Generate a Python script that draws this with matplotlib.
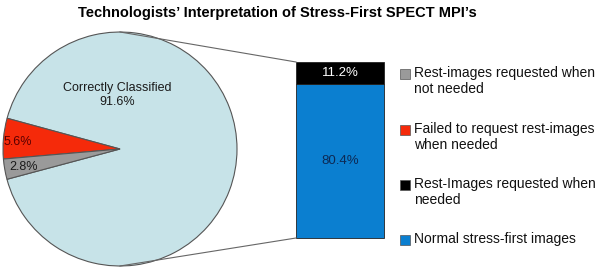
import matplotlib
matplotlib.use("Agg")
import matplotlib.pyplot as plt
from matplotlib.patches import Rectangle

plt.rcParams['font.family'] = ['Liberation Sans', 'DejaVu Sans']

# pie data
pie_labels = ['Correctly Classified', 'Failed to request rest-images', 'Rest-images requested when not needed']
pie_values = [91.6, 5.6, 2.8]
pie_colors = ['#c7e3e8', '#f52a0a', '#9a9a9a']

# bar (breakdown of correctly classified)
bar_values = [80.4, 11.2]
bar_colors = ['#0b7fd0', '#000000']
bar_text_colors = ['#0d2a55', 'white']

legend_labels = ['Rest-images requested when\nnot needed',
                 'Failed to request rest-images\nwhen needed',
                 'Rest-Images requested when\nneeded',
                 'Normal stress-first images']
legend_colors = ['#9a9a9a', '#f52a0a', '#000000', '#0b7fd0']

W, H = 601, 270
fig = plt.figure(figsize=(W / 100, H / 100), dpi=100)
ax = fig.add_axes([0, 0, 1, 1])

# pie in pixel units (y measured from bottom)
cx, cy, r = 120, 270 - 149, 117
wedges, _ = ax.pie(pie_values, colors=pie_colors, startangle=195, center=(cx, cy), radius=r,
                   wedgeprops=dict(edgecolor='#555555', linewidth=0.8))
ax.set_aspect('equal')
ax.set_xlim(0, W)
ax.set_ylim(0, H)
ax.axis('off')

ax.text(117, 270 - 95, 'Correctly Classified\n91.6%', ha='center', va='center', fontsize=9, color='#1a1a1a')
ax.text(4, 270 - 142, '5.6%', ha='left', va='center', fontsize=9, color='#5a0000')
ax.text(9, 270 - 167, '2.8%', ha='left', va='center', fontsize=9, color='#1a1a1a')

# stacked bar
bx, bw = 340, 88
btop, bbot = 270 - 62, 270 - 238
scale = (btop - bbot) / sum(bar_values)
bottom = bbot
for v, c, tc in zip(bar_values, bar_colors, bar_text_colors):
    h = v * scale
    ax.bar(bx, h, width=bw, bottom=bottom, color=c, edgecolor='#222222', linewidth=0.6)
    ax.text(bx, bottom + h / 2, '%.1f%%' % v, ha='center', va='center', fontsize=9.5, color=tc)
    bottom += h

# connector lines
ax.plot([cx, bx - bw / 2], [cy + r, btop], color='#666666', lw=0.8)
ax.plot([cx, bx - bw / 2], [cy - r, bbot], color='#666666', lw=0.8)

# legend drawn by hand so the square sits on the first line
leg_y = [74, 130, 185, 240]
for y, lab, c in zip(leg_y, legend_labels, legend_colors):
    ax.add_patch(Rectangle((400, 270 - y - 5), 10, 10, facecolor=c, edgecolor='#555555', linewidth=0.5))
    ax.text(414, 270 - y + 8, lab, ha='left', va='top', fontsize=10, color='#111111', linespacing=1.15)

fig.text(277 / W, 1 - 13 / H, 'Technologists\u2019 Interpretation of Stress-First SPECT MPI\u2019s',
         ha='center', va='center', fontsize=10.5, fontweight='bold')

fig.savefig('out.png', dpi=100)
